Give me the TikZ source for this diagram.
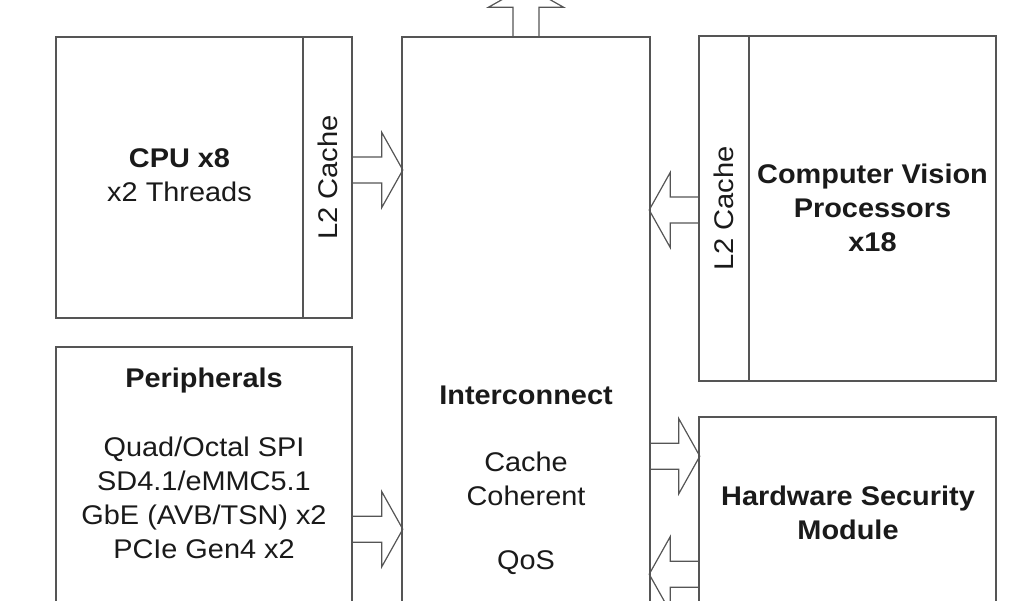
\documentclass[tikz,border=0pt]{standalone}
\usepackage{fontspec}
\setmainfont{Liberation Sans}
\usetikzlibrary{positioning,calc}
\definecolor{socLine}{HTML}{555555}
\definecolor{socText}{HTML}{1A1A1A}
\tikzset{
  block/.style={draw=socLine, line width=1.6pt, fill=white, inner sep=0pt},
  cachestrip/.style={block, rotate=90, font=\fontsize{27}{33}\selectfont, text=socText},
  txt/.style={font=\fontsize{27}{34}\selectfont, align=center, text=socText, inner sep=0pt, xscale=1.07},
  title/.style={txt, font=\fontsize{27}{34}\selectfont\bfseries},
  busline/.style={draw=socLine, line width=1.2pt, line join=miter}
}
% block arrow: tail point, direction, length
\newcommand{\bigarrow}[3]{%
  \draw[busline, shift={#1}, rotate=#2]
    (0,-13) -- ({#3-21},-13) -- ({#3-21},-37.5) -- (#3,0)
    -- ({#3-21},37.5) -- ({#3-21},13) -- (0,13);
}

\begin{document}
\begin{tikzpicture}[x=1pt, y=1pt]
  \useasboundingbox (0,0) rectangle (1024,600);
  \clip (0,0) rectangle (1024,600);

  % main blocks
  \node[block, minimum width=296, minimum height=281] (cpu) at (204,422.5) {};
  \node[block, minimum width=248, minimum height=583] (ic) at (526,271.5) {};
  \node[block, minimum width=297, minimum height=345] (cv) at (847.5,391.5) {};
  \node[block, minimum width=296, minimum height=273] (per) at (204,116.5) {};
  \node[block, minimum width=297, minimum height=203] (hsm) at (847.5,81.5) {};

  % L2 strips
  \node[cachestrip, minimum width=281, minimum height=49] (cpul2) at (327.5,422.5) {\scalebox{1.08}[1]{L2 Cache}};
  \node[cachestrip, minimum width=345, minimum height=50] (cvl2) at (724,391.5) {\scalebox{1.08}[1]{L2 Cache}};

  % texts
  \node[txt] (cputxt) at (179.5,424.5) {\textbf{CPU x8}\\x2 Threads};
  \node[title] (cvtxt) at (872.5,392) {Computer Vision\\Processors\\x18};
  \node[title] (pertitle) at (204,219) {Peripherals};
  \node[txt] (perlist) at (204,102) {Quad/Octal SPI\\SD4.1/eMMC5.1\\GbE (AVB/TSN) x2\\PCIe Gen4 x2};
  \node[title] (ictitle) at (526,205) {Interconnect};
  \node[txt] (iccoh) at (526,121) {Cache\\Coherent};
  \node[txt] (icqos) at (526,37) {QoS};
  \node[title] (hsmtxt) at (848,87) {Hardware Security\\Module};

  % bus arrows
  \bigarrow{(ic.north)}{90}{50}
  \bigarrow{($(cpu.east)+(0,7.5)$)}{0}{50}
  \bigarrow{($(cv.west)+(0,-1.5)$)}{180}{49}
  \bigarrow{($(ic.east |- hsm.north)+(0,-40)$)}{0}{49}
  \bigarrow{($(hsm.north west)+(0,-158)$)}{180}{49}
  \bigarrow{($(per.north east)+(0,-183)$)}{0}{50}
\end{tikzpicture}
\end{document}
